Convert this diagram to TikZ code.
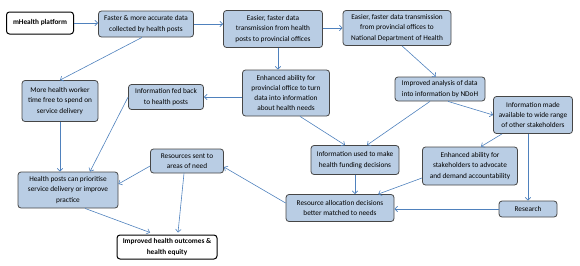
\documentclass[tikz,border=0pt]{standalone}
\usepackage{fontspec}
\setmainfont{Carlito}
\usepackage{xcolor}
\usepackage{tikz}
\usetikzlibrary{arrows.meta,positioning}
\definecolor{boxblue}{RGB}{185,205,228}
\definecolor{boxline}{RGB}{70,70,70}
\definecolor{linkblue}{RGB}{79,129,189}
\tikzset{
    flowbase/.style={
        rectangle,
        rounded corners=3pt,
        line width=0.8pt,
        inner sep=1pt,
        align=center,
        font=\fontsize{7.3}{10.3}\selectfont
    },
    infobox/.style={flowbase, draw=boxline, fill=boxblue},
    endbox/.style={flowbase, draw=black, fill=white, line width=1pt, font=\fontsize{7.3}{10.3}\selectfont\bfseries},
    link/.style={-{Straight Barb[length=2.8pt,width=5.5pt]}, line width=0.6pt, draw=linkblue},
}
\begin{document}
\begin{tikzpicture}[x=1pt, y=-1pt]
    \useasboundingbox (0,0) rectangle (580,265);
    \node[endbox, minimum width=67pt, minimum height=22pt] (mhealth) at (40,23) {mHealth platform};
    \node[infobox, minimum width=95pt, minimum height=26pt] (collect) at (146,24) {Faster \& more accurate data\\collected by health posts};
    \node[infobox, minimum width=99pt, minimum height=37pt] (toprov) at (273,29) {Easier, faster data\\transmission from health\\posts to provincial offices};
    \node[infobox, minimum width=108pt, minimum height=35pt] (tondoh) at (397,28) {Easier, faster data transmission\\from provincial offices to\\National Department of Health};
    \node[infobox, minimum width=87pt, minimum height=46pt] (provinfo) at (286,93) {Enhanced ability for\\provincial office to turn\\data into information\\about health needs};
    \node[infobox, minimum width=75pt, minimum height=25pt] (feedback) at (166,97) {Information fed back\\to health posts};
    \node[infobox, minimum width=76pt, minimum height=41pt] (worktime) at (60,101) {More health worker\\time free to spend on\\service delivery};
    \node[infobox, align=left, minimum width=90pt, minimum height=24pt] (analysis) at (440,89) {Improved analysis of data\\into information by NDoH};
    \node[infobox, minimum width=79pt, minimum height=37pt] (available) at (533,115) {Information made\\available to wide range\\of other stakeholders};
    \node[infobox, minimum width=88pt, minimum height=29pt] (funding) at (355,160) {Information used to make\\health funding decisions};
    \node[infobox, minimum width=95pt, minimum height=38pt] (advocate) at (470,166) {Enhanced ability for\\stakeholders to advocate\\and demand accountability};
    \node[infobox, minimum width=108pt, minimum height=27pt] (allocation) at (340,208) {Resource allocation decisions\\better matched to needs};
    \node[infobox, minimum width=58pt, minimum height=16pt] (research) at (528,209) {Research};
    \node[infobox, minimum width=73pt, minimum height=24pt] (sent) at (187,161) {Resources sent to\\areas of need};
    \node[infobox, minimum width=100pt, minimum height=36pt] (prioritise) at (68,190) {Health posts can prioritise\\service delivery or improve\\practice};
    \node[endbox, minimum width=100pt, minimum height=24pt] (outcomes) at (167,247) {Improved health outcomes \&\\health equity};

    \draw[link] (mhealth.east) -- (mhealth.east -| collect.west);
    \draw[link] (collect.east) -- (collect.east -| toprov.west);
    \draw[link] (toprov.east |- tondoh.west) -- (tondoh.west);
    \draw[link] ([xshift=5pt]toprov.south) -- ([xshift=5pt]toprov.south |- provinfo.north);
    \draw[link] ([xshift=-4pt]collect.south) -- (worktime.north);
    \draw[link] (provinfo.west |- feedback.east) -- (feedback.east);
    \draw[link] ([xshift=14pt]provinfo.south) -- ([xshift=-10pt]funding.north);
    \draw[link] ([xshift=5pt]tondoh.south) -- ([xshift=-4pt]analysis.north);
    \draw[link] ([xshift=-10pt]analysis.south) -- ([xshift=12pt]funding.north);
    \draw[link] ([xshift=8pt]analysis.south) -- (available.west);
    \draw[link] ([xshift=-31pt]available.south) -- ([xshift=11pt]advocate.north);
    \draw[link] (research.north |- available.south) -- (research.north);
    \draw[link] (research.west) -- (research.west -| allocation.east);
    \draw[link] (advocate.194) -- (allocation.20);
    \draw[link] (funding.south) -- (funding.south |- allocation.north);
    \draw[link] ([yshift=5pt]allocation.west) -- ([yshift=-6pt]sent.east);
    \draw[link] ([yshift=-5pt]sent.west) -- ([yshift=6pt]prioritise.east);
    \draw[link] ([xshift=-3pt]sent.south) -- ([xshift=11pt,yshift=2pt]outcomes.north);
    \draw[link] (worktime.south) -- (worktime.south |- prioritise.north);
    \draw[link] (feedback.west) -- ([xshift=22pt]prioritise.north);
    \draw[link] ([xshift=17pt]prioritise.south) -- ([xshift=-17pt,yshift=2pt]outcomes.north);
\end{tikzpicture}
\end{document}
